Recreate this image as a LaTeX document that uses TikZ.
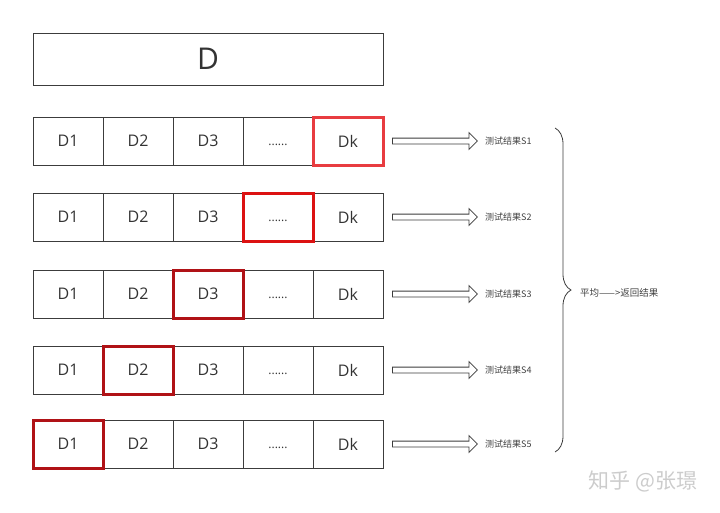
\documentclass[tikz,border=0pt]{standalone}
\usepackage{fontspec}
\setmainfont{Open Sans}
\newfontfamily\cjk{Noto Sans CJK SC}
\usetikzlibrary{positioning,shapes.arrows,decorations.pathreplacing}

\definecolor{lineGray}{RGB}{60,60,60}
\definecolor{redA}{RGB}{232,60,64}
\definecolor{redB}{RGB}{220,18,18}
\definecolor{redC}{RGB}{176,18,22}

\tikzset{
    cell/.style = {draw = lineGray, line width = 0.8pt, minimum width = 70pt, minimum height = 48pt,
        inner sep = 0pt, outer sep = 0pt, text = black!80, font = \fontsize{16}{16}\selectfont},
    pick/.style = {draw = #1, line width = 3pt, minimum width = 70pt, minimum height = 48pt, inner sep = 0pt},
    result/.style = {inner sep = 0pt, text = black!75, font = \cjk\fontsize{9}{9}\selectfont},
    fat arrow/.style = {single arrow, draw = lineGray, line width = 0.8pt, fill = white, inner sep = 0pt,
        text height = 5pt, text depth = 0pt, minimum height = 85pt, single arrow head extend = 5.5pt}
}

\begin{document}
\begin{tikzpicture}[x = 1pt, y = -1pt]
    \useasboundingbox (0,0) rectangle (720,512);
    \node [cell, minimum width = 350pt, minimum height = 52pt, font = \fontsize{30}{30}\selectfont] (D) at (208,59) {D};
    \foreach \row/\y/\col in {1/141/redA, 2/217/redB, 3/294/redC, 4/370/redC, 5/444/redC}{
        \node [cell] (r\row-1) at (68,\y) {D1};
        \node [cell, right = 0pt of r\row-1] (r\row-2) {D2};
        \node [cell, right = 0pt of r\row-2] (r\row-3) {D3};
        \node [cell, right = 0pt of r\row-3, font = \fontsize{12}{12}\selectfont] (r\row-4) {\vphantom{D}......};
        \node [cell, right = 0pt of r\row-4] (r\row-5) {Dk};
        \pgfmathtruncatemacro\k{6-\row}
        \node [pick = \col] (p\row) at (r\row-\k) {};
        \node [fat arrow, right = 9pt of r\row-5] (a\row) {};
        \node [result, right = 7pt of a\row] (s\row) {测试结果S\row};
    }
    \coordinate (top) at (555,128);
    \coordinate (bottom) at (555,452);
    \draw [lineGray, line width = 0.8pt, decorate, decoration = {brace, amplitude = 16pt}] (top) -- (bottom);
    \node [result, anchor = west, font = \cjk\fontsize{9.5}{9.5}\selectfont] (avg) at (580,293) {平均——>返回结果};
    \node [text = gray!40, font = \cjk\fontsize{21}{21}\selectfont] (zhihu) at (643,481) {知乎 @张璟};
\end{tikzpicture}
\end{document}
